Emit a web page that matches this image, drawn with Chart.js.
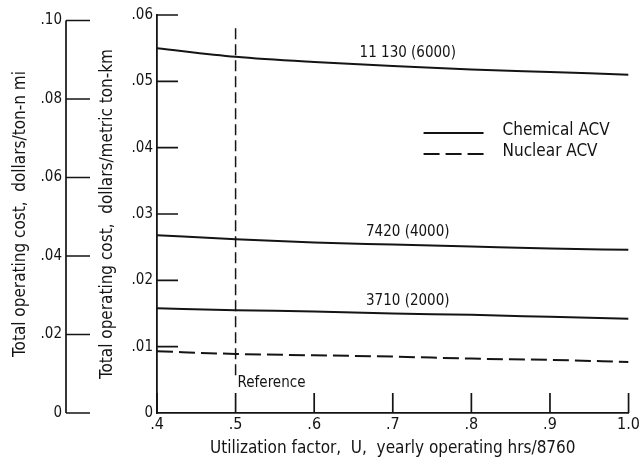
<!DOCTYPE html>
<html>
<head>
<meta charset="utf-8">
<script src="https://cdn.jsdelivr.net/npm/chart.js@4/dist/chart.umd.min.js"></script>
<style>
  html, body { margin: 0; padding: 0; background: #fff; }
  #wrap { width: 642px; height: 465px; }
</style>
</head>
<body>
<div id="wrap"><canvas id="c" width="642" height="465"></canvas></div>
<script>
// Utilization factor U (yearly operating hours / 8760)
const utilization = [0.4, 0.5, 0.6, 0.7, 0.8, 0.9, 1.0];

// Total operating cost, dollars per metric ton-km
const chemical11130 = [0.0550, 0.0537, 0.0529, 0.0523, 0.0518, 0.0514, 0.0510];
const chemical7420  = [0.0268, 0.0262, 0.0257, 0.0254, 0.0251, 0.0248, 0.0246];
const chemical3710  = [0.0158, 0.0155, 0.0153, 0.0150, 0.0148, 0.0145, 0.0142];
const nuclear       = [0.0093, 0.0089, 0.0087, 0.0085, 0.0082, 0.0080, 0.0077];

// Gross weight labels, metric tons (short tons)
const curveLabels = ['11 130 (6000)', '7420 (4000)', '3710 (2000)'];
const legendLabels = ['Chemical ACV', 'Nuclear ACV'];

// Axis ticks
const xTicks       = [0.4, 0.5, 0.6, 0.7, 0.8, 0.9, 1.0];
const yMetricTicks = [0, 0.01, 0.02, 0.03, 0.04, 0.05, 0.06];
const yNmiTicks    = [0, 0.02, 0.04, 0.06, 0.08, 0.10];

// Reference utilization marker
const referenceU = 0.5;
const referenceSpan = [0.0053, 0.058];

// $/ton-n mi per $/metric ton-km
const NMI_PER_TKM = 1.69;

const INK = '#141414';
const FONT = "'Liberation Sans Narrow', 'DejaVu Sans Condensed', 'Liberation Sans', sans-serif";

const pts = ys => utilization.map((u, i) => ({ x: u, y: ys[i] }));
const fmtY = v => (Math.abs(v) < 1e-9 ? '0' : v.toFixed(2).replace(/^0/, ''));
const fmtX = v => (Math.abs(v - 1) < 1e-9 ? '1.0' : v.toFixed(1).replace(/^0/, ''));

const setTicks = arr => scale => { scale.ticks = arr.map(v => ({ value: v })); };

// Short tick marks drawn inward from each axis line, plus the outer axis line
const inwardTicks = {
  id: 'inwardTicks',
  afterDraw(chart) {
    const { ctx, scales: { x, y, y2 } } = chart;
    ctx.save();
    ctx.strokeStyle = INK;
    ctx.lineWidth = 1.7;
    ctx.beginPath();
    x.ticks.forEach(t => {
      const px = x.getPixelForValue(t.value);
      ctx.moveTo(px, x.top);
      ctx.lineTo(px, x.top - 20);
    });
    y.ticks.forEach(t => {
      if (t.value === 0) return;
      const py = y.getPixelForValue(t.value);
      ctx.moveTo(y.right, py);
      ctx.lineTo(y.right + 21, py);
    });
    y2.ticks.forEach(t => {
      const py = y2.getPixelForValue(t.value);
      ctx.moveTo(y2.right, py);
      ctx.lineTo(y2.right + 24, py);
    });
    const top = y2.getPixelForValue(yNmiTicks[yNmiTicks.length - 1]);
    const bot = y2.getPixelForValue(0);
    ctx.moveTo(y2.right, top);
    ctx.lineTo(y2.right, bot);
    ctx.stroke();
    ctx.restore();
  }
};

// Curve weight labels, reference note and the line-style key
const annotations = {
  id: 'annotations',
  afterDatasetsDraw(chart) {
    const { ctx, chartArea, scales: { x, y } } = chart;
    ctx.save();
    ctx.fillStyle = INK;
    ctx.font = '15px ' + FONT;
    ctx.textAlign = 'center';
    ctx.textBaseline = 'bottom';
    curveLabels.forEach((txt, i) => {
      const p = chart.getDatasetMeta(i).data[3];
      ctx.fillText(txt, p.x + 15, p.y - 5);
    });

    ctx.textAlign = 'left';
    ctx.textBaseline = 'middle';
    ctx.fillText('Reference', x.getPixelForValue(referenceU) + 2, y.getPixelForValue(referenceSpan[0]) + 5);

    // key
    const kx = chartArea.right - 205, kw = 60;
    const rows = [
      { y: chartArea.top + 118, dash: [] },
      { y: chartArea.top + 139, dash: [16, 6] }
    ];
    ctx.font = '17px ' + FONT;
    rows.forEach((r, i) => {
      ctx.beginPath();
      ctx.strokeStyle = INK;
      ctx.lineWidth = 2;
      ctx.setLineDash(r.dash);
      ctx.moveTo(kx, r.y);
      ctx.lineTo(kx + kw, r.y);
      ctx.stroke();
      ctx.setLineDash([]);
      ctx.fillText(legendLabels[i], kx + 79, r.y - 2);
    });
    ctx.restore();
  }
};

const line = (data, dash) => ({
  data: pts(data),
  borderColor: INK,
  borderWidth: 2,
  borderDash: dash,
  pointRadius: 0,
  fill: false,
  cubicInterpolationMode: 'monotone',
  yAxisID: 'y'
});

new Chart(document.getElementById('c'), {
  type: 'line',
  data: {
    datasets: [
      line(chemical11130, []),
      line(chemical7420, []),
      line(chemical3710, []),
      line(nuclear, [16, 6]),
      {
        data: [{ x: referenceU, y: referenceSpan[1] }, { x: referenceU, y: referenceSpan[0] }],
        borderColor: INK,
        borderWidth: 1.5,
        borderDash: [11, 5],
        pointRadius: 0,
        yAxisID: 'y'
      }
    ]
  },
  options: {
    responsive: false,
    animation: false,
    devicePixelRatio: 1,
    layout: { padding: { top: 15, right: 9, left: 0, bottom: 0 } },
    plugins: { legend: { display: false }, tooltip: { enabled: false } },
    scales: {
      x: {
        type: 'linear',
        position: 'bottom',
        min: 0.4,
        max: 1.0,
        afterBuildTicks: setTicks(xTicks),
        afterFit: s => { s.height = 52; },
        grid: { display: false, drawTicks: false },
        border: { display: true, color: INK, width: 1.8 },
        ticks: { color: INK, padding: 2, maxRotation: 0, font: { family: FONT, size: 16 }, callback: v => fmtX(v) },
        title: {
          display: true,
          text: 'Utilization factor,  U,  yearly operating hrs/8760',
          color: INK,
          font: { family: FONT, size: 17 },
          padding: { top: 0, bottom: 6 }
        }
      },
      y: {
        type: 'linear',
        position: 'left',
        weight: 0,
        min: 0,
        max: 0.06,
        afterBuildTicks: setTicks(yMetricTicks),
        afterFit: s => { s.width = 91; },
        grid: { display: false, drawTicks: false },
        border: { display: true, color: INK, width: 1.8 },
        ticks: { color: INK, padding: 4, font: { family: FONT, size: 15 }, callback: v => fmtY(v) },
        title: {
          display: true,
          text: 'Total operating cost,  dollars/metric ton-km',
          color: INK,
          font: { family: FONT, size: 17 },
          padding: { top: 31, bottom: 0 }
        }
      },
      y2: {
        type: 'linear',
        position: 'left',
        weight: 1,
        min: 0,
        max: 0.06 * NMI_PER_TKM,
        afterBuildTicks: setTicks(yNmiTicks),
        afterFit: s => { s.width = 66; },
        grid: { display: false, drawTicks: false },
        border: { display: false },
        ticks: { color: INK, padding: 4, font: { family: FONT, size: 15 }, callback: v => fmtY(v) },
        title: {
          display: true,
          text: 'Total operating cost,  dollars/ton-n mi',
          color: INK,
          font: { family: FONT, size: 17 },
          padding: { top: 10, bottom: 0 }
        }
      }
    }
  },
  plugins: [inwardTicks, annotations]
});
</script>
</body>
</html>
